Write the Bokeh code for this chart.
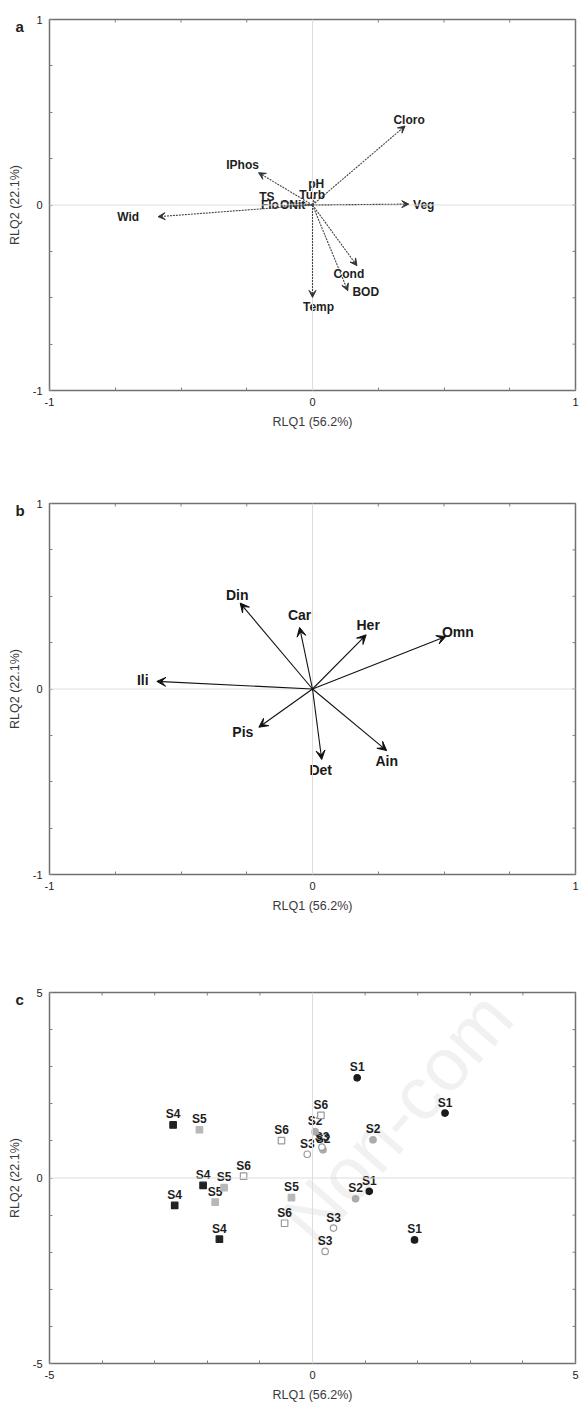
from bokeh.plotting import figure
from bokeh.models import ColumnDataSource, Arrow, VeeHead, Span, FixedTicker
from bokeh.layouts import column
from bokeh.embed import file_html
from bokeh.resources import INLINE
from bokeh.core.properties import value

# ---------------- data ----------------
# Panel a: environmental variables (RLQ1, RLQ2 scores)
env_names = ["Cloro", "IPhos", "Wid", "Veg", "Cond", "BOD", "Temp"]
env_x = [0.352, -0.205, -0.587, 0.366, 0.169, 0.134, 0.000]
env_y = [0.426, 0.174, -0.063, 0.005, -0.327, -0.462, -0.498]
# short vectors clustered at the origin
env_small_names = ["pH", "Turb", "TS", "Flo", "ONit"]
env_small_x = [0.010, 0.010, -0.120, -0.120, -0.030]
env_small_y = [0.060, 0.020, 0.020, -0.005, 0.000]

# Panel b: trophic traits
trait_names = ["Din", "Car", "Her", "Omn", "Ili", "Pis", "Det", "Ain"]
trait_x = [-0.275, -0.049, 0.204, 0.507, -0.592, -0.204, 0.035, 0.282]
trait_y = [0.463, 0.332, 0.292, 0.283, 0.041, -0.206, -0.380, -0.332]

# Panel c: samples by site
s1_x = [0.85, 2.52, 1.08, 1.94];     s1_y = [2.70, 1.75, -0.36, -1.67]
s2_x = [1.15, 0.82, 0.05, 0.20];     s2_y = [1.03, -0.56, 1.25, 0.76]
s3_x = [-0.10, 0.18, 0.40, 0.24];    s3_y = [0.64, 0.83, -1.35, -1.98]
s4_x = [-2.65, -2.08, -2.62, -1.77]; s4_y = [1.43, -0.20, -0.74, -1.65]
s5_x = [-2.15, -1.68, -1.85, -0.40]; s5_y = [1.30, -0.26, -0.65, -0.53]
s6_x = [0.16, -0.59, -1.31, -0.53];  s6_y = [1.69, 1.01, 0.05, -1.22]

x_title = "RLQ1 (56.2%)"
y_title = "RLQ2 (22.1%)"
watermark = "Non-com"

# ---------------- style ----------------
FONT = "Liberation Sans"
W = 580
LEFT = 49
FW = 526
RIGHT = W - LEFT - FW
FH = 371

# label offsets in pixels (style, not data)
env_dx = [4, -16, -30, 15, -8, 18, 6]
env_dy = [6, 8, 0, -1, -8, -1, -10]
env_small_dx = [1, -3, -14, -11, -12]
env_small_dy = [10, 6, 4, 1, 0]
trait_dx = [-3, 0, 2, 12, -14, -16, -1, 0]
trait_dy = [8, 12, 10, 5, 1, -5, -11, -10]


def base_fig(height, top, bottom, lim, step, letter):
    p = figure(width=W, height=height, x_range=(-lim, lim), y_range=(-lim, lim),
               output_backend="svg", toolbar_location=None, tools="",
               min_border_left=LEFT, min_border_right=RIGHT,
               min_border_top=top, min_border_bottom=bottom)
    p.grid.visible = False
    p.outline_line_color = "#707070"
    p.outline_line_width = 1.5
    minor = [round(-lim + step * i, 6) for i in range(1, int(round(2 * lim / step)))]
    minor = [m for m in minor if abs(m) > 1e-9]
    for ax in p.axis:
        ax.ticker = FixedTicker(ticks=[-lim, 0, lim], minor_ticks=minor)
        ax.major_label_overrides = {-lim: "-%d" % lim, 0: "0", lim: "%d" % lim}
        ax.axis_line_color = None
        ax.major_tick_in = 3
        ax.major_tick_out = 0
        ax.minor_tick_in = 3
        ax.minor_tick_out = 0
        ax.major_tick_line_color = "#808080"
        ax.minor_tick_line_color = "#808080"
        ax.major_label_text_font = FONT
        ax.major_label_text_font_size = "11px"
        ax.major_label_text_color = "#222222"
        ax.axis_label_text_font = FONT
        ax.axis_label_text_font_size = "12.5px"
        ax.axis_label_text_font_style = "normal"
        ax.axis_label_text_color = "#3a3a3a"
    p.below[0].axis_label = x_title
    p.below[0].major_label_standoff = 7
    p.below[0].axis_label_standoff = 6
    p.left[0].axis_label = y_title
    p.left[0].major_label_standoff = 7
    p.left[0].axis_label_standoff = 8
    # inward ticks on the top and right edges of the frame
    ux = FW / (2.0 * lim)
    uy = FH / (2.0 * lim)
    tpos = [-lim] + minor[: len(minor) // 2] + [0] + minor[len(minor) // 2:] + [lim]
    p.segment(x0=tpos, y0=[lim] * len(tpos), x1=tpos, y1=[lim - 3 / uy] * len(tpos),
              line_color="#808080", line_width=1)
    p.segment(x0=[lim] * len(tpos), y0=tpos, x1=[lim - 3 / ux] * len(tpos), y1=tpos,
              line_color="#808080", line_width=1)
    p.add_layout(Span(location=0, dimension="width", line_color="#dddddd", line_width=1))
    p.add_layout(Span(location=0, dimension="height", line_color="#dddddd", line_width=1))
    # panel letter as the (unclipped) title, pulled into the frame's top-left corner
    p.title.text = letter
    p.title.align = "left"
    p.title.offset = -34
    p.title.text_font = FONT
    p.title.text_font_style = "bold"
    p.title.text_font_size = "15px"
    p.title.text_color = "#222222"
    try:
        p.title.standoff = -30
    except Exception:
        p.title.standoff = 0
    return p, ux, uy


# ---------------- panel a ----------------
pa, ux, uy = base_fig(460, 19, 70, 1, 0.25, "a")
src_a = ColumnDataSource(dict(x0=[0.0] * len(env_x), y0=[0.0] * len(env_y), x1=env_x, y1=env_y))
pa.add_layout(Arrow(end=VeeHead(size=7, fill_color="#333333", line_color="#333333", line_width=1),
                    x_start="x0", y_start="y0", x_end="x1", y_end="y1", source=src_a,
                    line_color="#444444", line_width=1.1, line_dash="2 1"))
src_as = ColumnDataSource(dict(x0=[0.0] * len(env_small_x), y0=[0.0] * len(env_small_y),
                               x1=env_small_x, y1=env_small_y))
pa.add_layout(Arrow(end=None, x_start="x0", y_start="y0", x_end="x1", y_end="y1", source=src_as,
                    line_color="#444444", line_width=1.1, line_dash="2 1"))
all_names = env_names + env_small_names
all_x = env_x + env_small_x
all_y = env_y + env_small_y
all_dx = env_dx + env_small_dx
all_dy = env_dy + env_small_dy
pa.text(x=[x + d / ux for x, d in zip(all_x, all_dx)],
        y=[y + d / uy for y, d in zip(all_y, all_dy)],
        text=all_names, text_font=value(FONT), text_font_style="bold",
        text_font_size="12px", text_align="center", text_baseline="middle",
        text_color="#1e1e1e")

# ---------------- panel b ----------------
pb, ux, uy = base_fig(490, 43, 76, 1, 0.25, "b")
src_b = ColumnDataSource(dict(x0=[0.0] * len(trait_x), y0=[0.0] * len(trait_y), x1=trait_x, y1=trait_y))
pb.add_layout(Arrow(end=VeeHead(size=9, fill_color="#111111", line_color="#111111", line_width=1),
                    x_start="x0", y_start="y0", x_end="x1", y_end="y1", source=src_b,
                    line_color="#111111", line_width=1.1))
pb.text(x=[x + d / ux for x, d in zip(trait_x, trait_dx)],
        y=[y + d / uy for y, d in zip(trait_y, trait_dy)],
        text=trait_names, text_font=value(FONT), text_font_style="bold",
        text_font_size="14px", text_align="center", text_baseline="middle",
        text_color="#1a1a1a")

# ---------------- panel c ----------------
pc, cux, cuy = base_fig(455, 42, 42, 5, 1, "c")
pc.text(x=[0.3], y=[-2.2], text=[watermark], angle=0.85,
        text_font=value(FONT), text_font_size="75px", text_align="left",
        text_baseline="bottom", text_color="#f1f1f1")

groups = [
    ("S1", s1_x, s1_y, "circle", "#1c1c1c", "#1c1c1c"),
    ("S2", s2_x, s2_y, "circle", "#ababab", "#ababab"),
    ("S3", s3_x, s3_y, "circle", "white", "#9a9a9a"),
    ("S4", s4_x, s4_y, "square", "#222222", "#222222"),
    ("S5", s5_x, s5_y, "square", "#b8b8b8", "#b8b8b8"),
    ("S6", s6_x, s6_y, "square", "white", "#9a9a9a"),
]
for name, xs, ys, mk, fc, lc in groups:
    pc.text(x=xs, y=[y + 10.5 / cuy for y in ys], text=[name] * len(xs),
            text_font=value(FONT), text_font_style="bold", text_font_size="12px",
            text_align="center", text_baseline="middle", text_color="#1e1e1e")
for name, xs, ys, mk, fc, lc in groups:
    pc.scatter(x=xs, y=ys, marker=mk, size=6.5, fill_color=fc, line_color=lc, line_width=1.2)

layout = column(pa, pb, pc)
open("out.html", "w").write(file_html(layout, INLINE))
